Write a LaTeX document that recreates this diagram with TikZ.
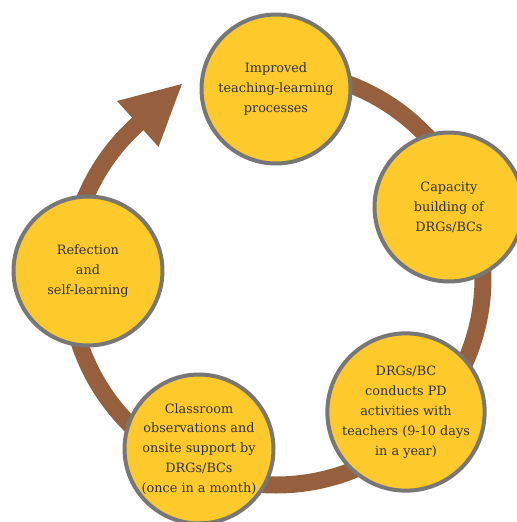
\documentclass[tikz,border=0pt]{standalone}
\usepackage{fontspec}
\setmainfont{DejaVu Serif}
\usetikzlibrary{%
  arrows.meta%
}
\definecolor{ringbrown}{HTML}{96603F}
\definecolor{stageyellow}{HTML}{FDC92B}
\definecolor{rimgray}{HTML}{777777}
\definecolor{textgray}{HTML}{333333}
\tikzset{>=latex,
  stage/.style={circle,draw=rimgray,line width=0.08cm,fill=stageyellow,
    minimum size=2.98cm,inner sep=0pt,align=center,text=textgray,
    font=\fontsize{7.3}{11.34}\selectfont}}

\begin{document}
\begin{tikzpicture}[x=0.02cm,y=-0.02cm]
        \useasboundingbox (0,0) rectangle (517,522);
        \coordinate (tip) at (183,83);
        \draw[ringbrown,line width=0.34cm,
        -{Triangle[length=1.22cm,width=1.14cm]}] (276,278) ++(-90:207)
        arc[start angle=-90,end angle=228.1,radius=207] -- (tip);
        \node[stage] (improved) at (276,89)
        {Improved\\teaching-learning\\processes};
        \node[stage] (capacity) at (449,207)
        {Capacity\\building of\\DRGs/BCs};
        \node[stage] (conducts) at (406,412)
        {DRGs/BC\\conducts PD\\activities with\\teachers (9-10 days\\in a year)};
        \node[stage] (observe) at (199,449)
        {Classroom\\observations and\\onsite support by\\DRGs/BCs\\(once in a month)};
        \node[stage] (reflect) at (88,271)
        {Refection\\and\\self-learning};
      \end{tikzpicture}
\end{document}
